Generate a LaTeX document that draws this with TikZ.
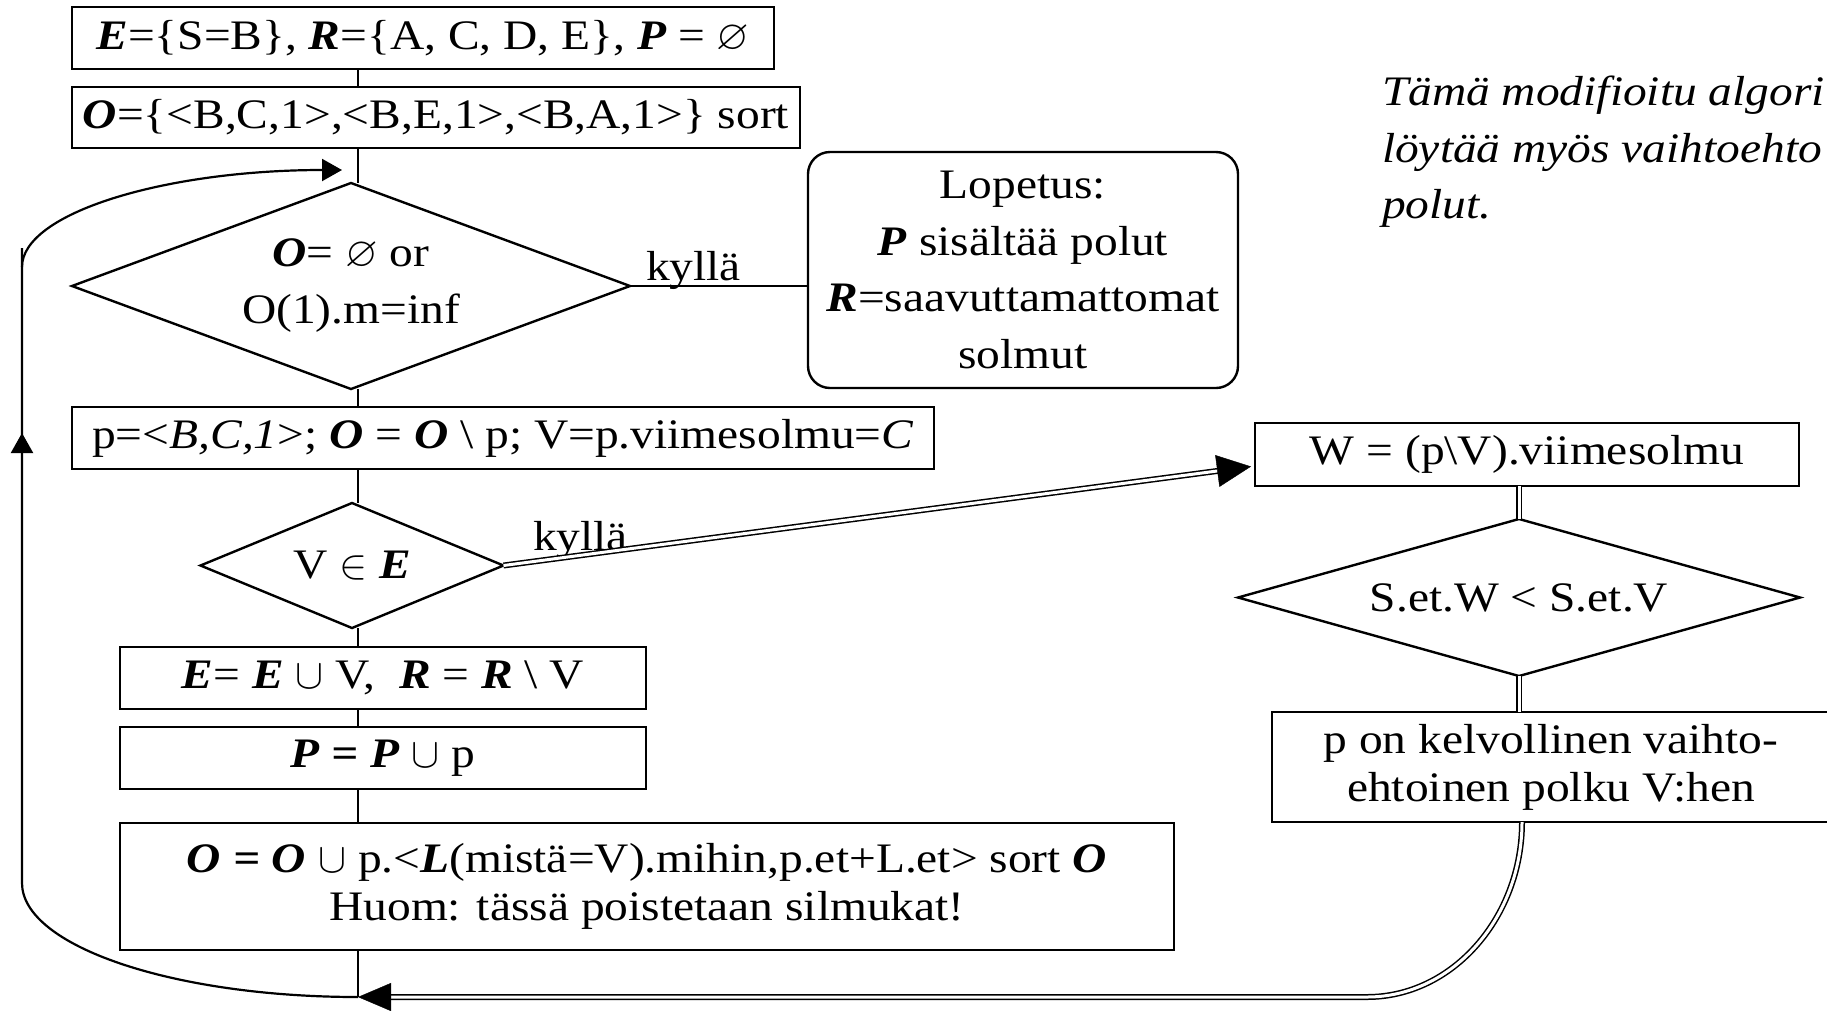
\RequirePackage{fix-cm}
\documentclass[tikz,border=0pt]{standalone}
\usepackage{amssymb}
\usepackage{fontspec}
\setmainfont{Liberation Serif}[FakeStretch=1.13]
\usetikzlibrary{arrows.meta,shapes.geometric}
\newcommand\bfit[1]{\textbf{\textit{#1}}}
\begin{document}
\begin{tikzpicture}[x=1pt, y=-1pt,
  every node/.style={inner sep=0pt, outer sep=0pt, font=\fontsize{42}{48}\selectfont},
  box/.style={draw, line width=2.8pt, align=center},
  stopbox/.style={draw, line width=2.4pt, rounded corners=22pt, align=center},
  cond/.style={draw, diamond, line width=2.4pt, align=center},
  flow/.style={line width=1.6pt},
  loopline/.style={line width=2.2pt},
  dbl/.style={draw=black, double=white, double distance=3pt, line width=1.5pt},
  tipline/.style={draw=white, line width=0.4pt},
]
\useasboundingbox (0,0) rectangle (1827,1010);

% main column
\node[box, minimum width=702pt, minimum height=62pt] (init) at (423,38)
  {\bfit{E}=\{S=B\}, \bfit{R}=\{A, C, D, E\}, \bfit{P} = $\varnothing$};
\node[box, minimum width=728pt, minimum height=61pt] (open) at (436,117.5)
  {\bfit{O}=\{<B,C,1>,<B,E,1>,<B,A,1>\} sort};
\node[cond, shape aspect=2.7, minimum width=558pt, minimum height=206pt,
      font=\fontsize{42}{57}\selectfont] (empty) at (351,286)
  {\bfit{O}= $\varnothing$ or\\O(1).m=inf};
\node[box, minimum width=862pt, minimum height=62pt] (pick) at (503,438)
  {p=<\textit{B,C,1}>; \bfit{O} = \bfit{O} \textbackslash{} p; V=p.viimesolmu=\textit{C}};
\node[cond, shape aspect=2.4, minimum width=303pt, minimum height=125pt] (seen) at (352,565.5)
  {V $\in$ \bfit{E}};
\node[box, minimum width=526pt, minimum height=62pt] (upd) at (383,678)
  {\bfit{E}= \bfit{E} $\cup$ V,\ \ \bfit{R} = \bfit{R} \textbackslash{} V};
\node[box, minimum width=526pt, minimum height=62pt] (addp) at (383,758)
  {\bfit{P = P} $\cup$ p};
\node[box, minimum width=1054pt, minimum height=127pt] (expand) at (647,886.5)
  {\bfit{O = O} $\cup$ p.<\bfit{L}(mistä=V).mihin,p.et+L.et> sort \bfit{O}\\
   Huom: tässä poistetaan silmukat!};

% stop box
\node[stopbox, minimum width=430pt, minimum height=236pt,
      font=\fontsize{42}{56.7}\selectfont] (stop) at (1023,270)
  {Lopetus:\\\bfit{P} sisältää polut\\\bfit{R}=saavuttamattomat\\solmut};

% side branch
\node[box, minimum width=544pt, minimum height=63pt] (last) at (1527,454.5)
  {W = (p\textbackslash{}V).viimesolmu};
\node[cond, shape aspect=3.58, minimum width=562pt, minimum height=157pt] (cmp) at (1519,597.5)
  {S.et.W < S.et.V};
\node[box, minimum width=558pt, minimum height=110pt] (alt) at (1551,767)
  {p on kelvollinen vaihto-\\ehtoinen polku V:hen};

% note
\node[anchor=base west, font=\fontsize{42}{57}\selectfont\itshape] (note1) at (1382,105) {Tämä modifioitu algori};
\node[anchor=base west, font=\fontsize{42}{57}\selectfont\itshape] (note2) at (1382,162) {löytää myös vaihtoehto};
\node[anchor=base west, font=\fontsize{42}{57}\selectfont\itshape] (note3) at (1382,218) {polut.};

% labels
\node[anchor=base west] (yes1) at (646,280) {kyllä};
\node[anchor=base west] (yes2) at (533,550) {kyllä};

% reference points
\coordinate (spine) at (358,0);
\coordinate (join) at (358,997);
\coordinate (lowL) at (22,883);
\coordinate (topL) at (22,248);
\coordinate (upTip) at (22,433);
\coordinate (curveL) at (22,267);
\coordinate (entry) at (342,170);
\coordinate (hit) at ([xshift=-4pt,yshift=-12pt]last.west);
\coordinate (altout) at ([xshift=-29pt]alt.south);
\coordinate (bend) at (1367,997);

% main column connectors
\draw[flow] (init.south -| spine) -- (open.north -| spine);
\draw[flow] (open.south -| spine) -- (empty.north -| spine);
\draw[flow] (empty.south -| spine) -- (pick.north -| spine);
\draw[flow] (pick.south -| spine) -- (seen.north -| spine);
\draw[flow] (seen.south -| spine) -- (upd.north -| spine);
\draw[flow] (upd.south -| spine) -- (addp.north -| spine);
\draw[flow] (addp.south -| spine) -- (expand.north -| spine);
\draw[flow] (expand.south -| spine) -- (join);

% exit to stop box
\draw[flow] (empty.east) -- (stop.west |- empty.east);

% loop back to the test
\draw[loopline] (join) .. controls (173,997) and (22,946) .. (lowL) -- (topL);
\draw[loopline, -{Triangle[length=20pt,width=22pt]}] (lowL) -- (upTip);
\draw[loopline, -{Triangle[length=20pt,width=22pt]}] (curveL) .. controls (22,213) and (165,170) .. (entry);

% side branch connectors
\draw[dbl, shorten >=32pt] (seen.east) -- (hit);
\draw[tipline, -{Triangle[length=34pt,width=32pt,color=black]}] (seen.east) -- (hit);
\draw[dbl] (last.south -| cmp.north) -- (cmp.north);
\draw[dbl] (cmp.south) -- (alt.north -| cmp.south);
\draw[dbl, shorten >=31pt] (altout) .. controls +(0,95) and +(86,0) .. (bend) -- (join);
\draw[tipline, -{Triangle[length=33pt,width=28pt,color=black]}] (bend) -- (join);
\end{tikzpicture}
\end{document}
